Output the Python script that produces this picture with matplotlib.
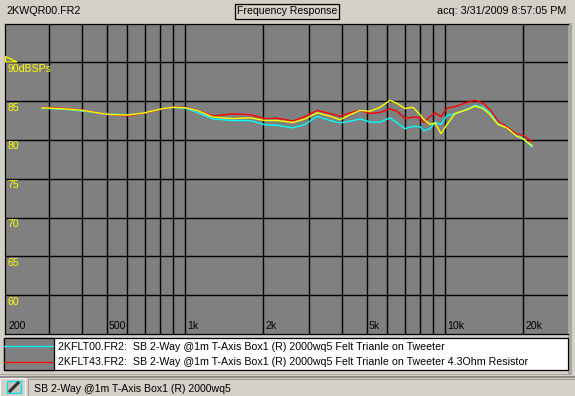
import matplotlib
matplotlib.use('Agg')
import matplotlib.pyplot as plt
from matplotlib.patches import Rectangle, Polygon
from matplotlib.lines import Line2D

freq = [282,361,405,501,598,689,823,899,1000,1112,1281,1530,1778,2031,2259,2602,2894,3219,3612,3945,
        4312,4711,5148,5623,6145,6537,7017,7531,8014,8302,8757,9152,9652,10179,10926,12150,13045,
        14001,14895,15991,17320,18918,19953,21610]
cyan_db = [84.1,83.9,83.7,83.4,83.2,83.4,84.0,84.2,84.1,83.55,82.7,82.5,82.5,81.95,81.9,81.55,82.0,83.05,82.5,82.2,
           82.4,82.7,82.3,82.3,82.85,82.2,81.45,81.75,81.7,81.2,81.45,82.25,82.0,83.15,83.35,83.95,84.45,
           84.2,83.5,82.25,81.85,80.7,80.2,79.1]
red_db = [84.2,84.0,83.8,83.35,83.1,83.4,84.0,84.2,84.2,83.8,83.1,83.35,83.25,82.75,82.8,82.45,83.0,83.8,83.4,83.05,
          83.5,83.8,83.4,83.55,84.0,83.7,82.75,82.95,82.85,82.25,83.0,83.5,83.0,84.1,84.3,84.85,85.1,
          84.75,83.9,82.4,81.75,80.75,80.6,79.8]
yellow_db = [84.15,83.95,83.8,83.3,83.2,83.45,84.05,84.2,84.15,83.8,82.95,82.75,82.85,82.5,82.5,82.25,82.7,83.5,83.05,82.6,
             83.25,83.8,83.7,84.2,85.1,84.7,84.05,84.2,83.25,82.6,82.0,82.2,80.8,82.0,83.4,83.9,84.35,
             84.05,83.25,82.0,81.55,80.45,80.15,79.25]
x_grid = [300,400,500,600,700,800,900,1000,2000,3000,4000,5000,6000,7000,8000,9000,10000,20000]
y_grid = [60,65,70,75,80,85,90]
x_labels = {205:'200',500:'500',1000:'1k',2000:'2k',5000:'5k',10000:'10k',20000:'20k'}
y_labels = ['90dBSPs','85','80','75','70','65','60']
y_label_vals = [90,85,80,75,70,65,60]
legend_names = ['2KFLT00.FR2:  SB 2-Way @1m T-Axis Box1 (R) 2000wq5 Felt Trianle on Tweeter',
                '2KFLT43.FR2:  SB 2-Way @1m T-Axis Box1 (R) 2000wq5 Felt Trianle on Tweeter 4.3Ohm Resistor']

W, H = 575, 396
plt.rcParams['font.family'] = ['Liberation Sans', 'DejaVu Sans']
fig = plt.figure(figsize=(W/100, H/100), dpi=100, facecolor='#D4D0C8')

def box(l, t, r, b):
    return [l/W, 1-b/H, (r-l)/W, (b-t)/H]

# window furniture
bg = fig.add_axes([0, 0, 1, 1], zorder=0)
bg.set_xlim(0, W); bg.set_ylim(H, 0); bg.axis('off')
bg.add_patch(Rectangle((568, 23), 4, 351, fc='#A8A6A0', ec='none'))
bg.add_patch(Rectangle((0, 373.5), 572, 1.5, fc='#A8A6A0', ec='none'))
bg.add_patch(Rectangle((0, 376), 575, 2, fc='#8E8C86', ec='none'))
bg.add_patch(Rectangle((4, 338), 564, 32, fc='white', ec='black', lw=0.9))
bg.add_patch(Rectangle((4, 338), 50, 32, fc='#808080', ec='black', lw=0.9))
bg.add_line(Line2D([4, 53], [346, 346], color='#00FFFF', lw=0.9))
bg.add_line(Line2D([4, 53], [362, 362], color='#FF0000', lw=0.9))
bg.text(58.5, 346.5, legend_names[0], fontsize=7.65, va='center', ha='left', color='black')
bg.text(58.5, 362, legend_names[1], fontsize=7.65, va='center', ha='left', color='black')
bg.text(6.5, 11.5, '2KWQR00.FR2', fontsize=7.75, va='center', ha='left', color='black')
bg.text(287, 11.5, 'Frequency Response', fontsize=7.55, va='center', ha='center', color='black',
        bbox=dict(boxstyle='square,pad=0.22', fc='#D4D0C8', ec='black', lw=0.9))
bg.text(566, 11.5, 'acq: 3/31/2009 8:57:05 PM', fontsize=7.75, va='center', ha='right', color='black')
bg.add_patch(Rectangle((0, 378), 25, 18, fc='#D4D0C8', ec='white', lw=0.8))
bg.add_patch(Rectangle((7, 381), 14, 12, fc='#C8C4BC', ec='#00E0E0', lw=0.9))
bg.add_line(Line2D([10, 18], [391, 383], color='#303030', lw=2.2))
bg.add_patch(Rectangle((28, 379), 547, 17, fc='#D4D0C8', ec='#9A9890', lw=0.7))
bg.text(34, 389.5, 'SB 2-Way @1m T-Axis Box1 (R) 2000wq5', fontsize=7.6, va='center', ha='left', color='black')

# response plot
ax = fig.add_axes(box(4.5, 23.5, 568, 334), zorder=1, facecolor='#808080')
ax.set_xscale('log')
ax.set_xlim(202, 29720)
ax.set_ylim(55, 95)
ax.set_xticks(x_grid, labels=[''] * len(x_grid))
ax.set_xticks([], minor=True)
ax.set_yticks(y_grid, labels=[''] * len(y_grid))
ax.tick_params(length=0)
ax.grid(True, color='black', lw=1.0)
ax.set_axisbelow(True)
for s in ax.spines.values():
    s.set_color('black'); s.set_linewidth(0.9)
ax.spines['right'].set_visible(False)

lw = 1.0
ax.plot(freq, cyan_db, color='#00FFFF', lw=lw, solid_joinstyle='miter', zorder=3)
ax.plot(freq, red_db, color='#FF0000', lw=lw, solid_joinstyle='miter', zorder=4)
ax.plot(freq, yellow_db, color='#FFFF00', lw=lw, solid_joinstyle='miter', zorder=5)

for f, t in x_labels.items():
    ax.annotate(t, (f, 0), xycoords=('data', 'axes fraction'), xytext=(2, 3),
                textcoords='offset pixels', fontsize=7.6, color='black', ha='left', va='bottom', zorder=6)
for v, t in zip(y_label_vals, y_labels):
    ax.annotate(t, (202, v), xycoords='data', xytext=(3, -1.5), textcoords='offset pixels',
                fontsize=7.6, color='#FFFF00', ha='left', va='top', zorder=6)
bg2 = fig.add_axes([0, 0, 1, 1], zorder=2)
bg2.set_xlim(0, W); bg2.set_ylim(H, 0); bg2.axis('off'); bg2.patch.set_alpha(0)
bg2.add_patch(Polygon([(5.5, 56.5), (5.5, 62), (17, 62)], closed=True, fc='none', ec='#FFFF00', lw=0.9))

fig.savefig('out.png', dpi=100, facecolor=fig.get_facecolor())
